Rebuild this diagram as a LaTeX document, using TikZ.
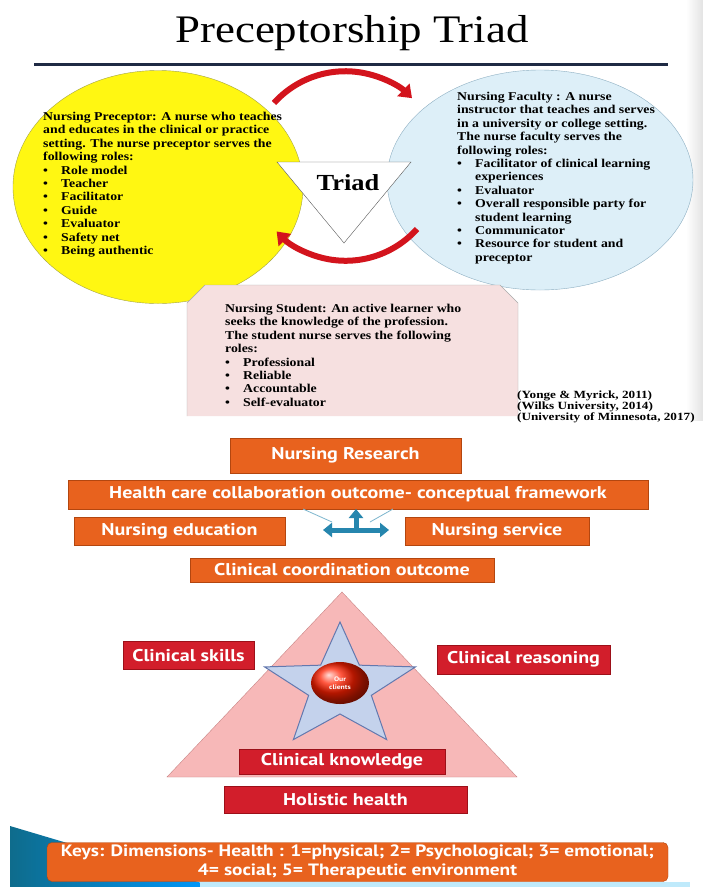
\documentclass[tikz,border=0pt]{standalone}
\usepackage{fontspec}
\setmainfont{Liberation Serif}
\newfontfamily\rolefont[FakeStretch=1.15]{Liberation Serif}
\newfontfamily\boxfont[FakeStretch=1.18]{PT Sans}
\newfontfamily\citefont[FakeStretch=1.2]{Liberation Serif}
\usetikzlibrary{arrows.meta,shapes.geometric}

\definecolor{navyline}{HTML}{1F2A44}
\definecolor{precfill}{HTML}{FFF712}
\definecolor{precline}{HTML}{A3A347}
\definecolor{facfill}{HTML}{DDEFF8}
\definecolor{facline}{HTML}{8DAFC2}
\definecolor{studfill}{HTML}{F6E0E0}
\definecolor{studline}{HTML}{A9A9A9}
\definecolor{arcred}{HTML}{D3141D}
\definecolor{boxorange}{HTML}{E8621E}
\definecolor{boxorangeline}{HTML}{B3460F}
\definecolor{boxred}{HTML}{D21E2B}
\definecolor{boxredline}{HTML}{9C1019}
\definecolor{hubblue}{HTML}{2686AE}
\definecolor{trifill}{HTML}{F7B8B8}
\definecolor{triline}{HTML}{C98585}
\definecolor{starfill}{HTML}{C4D2EC}
\definecolor{starline}{HTML}{6378AE}
\definecolor{swoosh}{HTML}{0E6C8C}

\newcommand{\rolebullet}{\makebox[18pt][l]{\textbullet}}

\tikzset{
  roletext/.style={anchor=north west, inner sep=0pt, align=left,
    font=\rolefont\fontsize{12}{13.4}\selectfont\bfseries},
  orangebox/.style={draw=boxorangeline, fill=boxorange, text=white, inner sep=0pt,
    font=\boxfont\bfseries\fontsize{17}{19}\selectfont},
  redbox/.style={draw=boxredline, fill=boxred, text=white, inner sep=0pt,
    font=\boxfont\bfseries\fontsize{17}{19}\selectfont},
  cyclearrow/.style={arcred, line width=6pt, -{Triangle[width=17pt,length=12pt]}},
  hubarrow/.style={hubblue, line width=5pt},
  hubline/.style={hubblue!60, line width=0.8pt},
}

\begin{document}
\begin{tikzpicture}[x=1pt,y=-1pt]
  \useasboundingbox (0,0) rectangle (703,887);
  \fill[white] (0,0) rectangle (703,887);

  % ---- triad slide ----
  \shade[left color=white,right color=gray!22] (686,0) rectangle (703,420);
  \node[anchor=base] (title) at (352,42) {\rolefont\fontsize{39}{39}\selectfont Preceptorship Triad};
  \draw[navyline, line width=3pt] (34,64) -- (668,64);

  \node[ellipse, draw=precline, fill=precfill, minimum width=290pt, minimum height=233pt] (preceptor) at (158,187) {};
  \node[ellipse, draw=facline, fill=facfill, minimum width=306pt, minimum height=220pt] (faculty) at (540,180) {};

  % cycle arrows round the triad
  \coordinate (cycTL) at (274,103);
  \coordinate (cycBR) at (417,229);
  \draw[cyclearrow] (cycTL) arc[start angle=222, end angle=314, radius=96];
  \draw[cyclearrow] (cycBR) arc[start angle=42, end angle=136, radius=96];

  \draw[fill=white, draw=gray!70!black] (277,162) -- (411,162) -- (344,243) -- cycle;
  \node[anchor=base, font=\rolefont\fontsize{23}{23}\selectfont\bfseries] (triad) at (348,190) {Triad};

  \fill[studfill] (187,303) -- (205,285) -- (500,285) -- (518,303) -- (518,416) -- (187,416) -- cycle;
  \draw[studline] (187,416) -- (187,303) -- (205,285) -- (500,285) -- (518,303) -- (518,416);

  \node[roletext] (precText) at (43,112) {Nursing Preceptor: A nurse who teaches\\
    and educates in the clinical or practice\\
    setting. The nurse preceptor serves the\\
    following roles:\\
    \rolebullet Role model\\
    \rolebullet Teacher\\
    \rolebullet Facilitator\\
    \rolebullet Guide\\
    \rolebullet Evaluator\\
    \rolebullet Safety net\\
    \rolebullet Being authentic};

  \node[roletext] (facText) at (457,92) {Nursing Faculty : A nurse\\
    instructor that teaches and serves\\
    in a university or college setting.\\
    The nurse faculty serves the\\
    following roles:\\
    \rolebullet Facilitator of clinical learning\\
    \hspace*{18pt}experiences\\
    \rolebullet Evaluator\\
    \rolebullet Overall responsible party for\\
    \hspace*{18pt}student learning\\
    \rolebullet Communicator\\
    \rolebullet Resource for student and\\
    \hspace*{18pt}preceptor};

  \node[roletext] (studText) at (225,304) {Nursing Student: An active learner who\\
    seeks the knowledge of the profession.\\
    The student nurse serves the following\\
    roles:\\
    \rolebullet Professional\\
    \rolebullet Reliable\\
    \rolebullet Accountable\\
    \rolebullet Self-evaluator};

  \node[anchor=north west, inner sep=0pt, align=left,
    font=\citefont\fontsize{11}{11}\selectfont\bfseries] (refs) at (517,391)
    {(Yonge \& Myrick, 2011)\\ (Wilks University, 2014)\\ (University of Minnesota, 2017)};

  % ---- framework slide ----
  \node[orangebox, minimum width=231pt, minimum height=35pt] (research) at (345.5,455.5) {Nursing Research};
  \node[orangebox, minimum width=580pt, minimum height=29pt] (collab) at (358,494.5) {Health care collaboration outcome- conceptual framework};
  \node[orangebox, minimum width=211pt, minimum height=28pt] (education) at (179.5,531) {Nursing education};
  \node[orangebox, minimum width=184pt, minimum height=28pt] (service) at (497,531) {Nursing service};
  \node[orangebox, minimum width=304pt, minimum height=24pt] (coord) at (342,570) {Clinical coordination outcome};

  \coordinate (hubL) at (323,530);
  \coordinate (hubR) at (389,530);
  \coordinate (hubC) at (356,530);
  \coordinate (hubT) at (356,509);
  \coordinate (linkA) at (303,509);
  \coordinate (linkB) at (332,522);
  \coordinate (linkC) at (393,509);
  \coordinate (linkD) at (370,522);
  \draw[hubline] (linkA) -- (linkB);
  \draw[hubline] (linkC) -- (linkD);
  \draw[hubarrow, {Triangle[width=14pt,length=9pt]}-{Triangle[width=14pt,length=9pt]}] (hubL) -- (hubR);
  \draw[hubarrow, -{Triangle[width=14pt,length=9pt]}] (hubC) -- (hubT);

  \draw[fill=trifill, draw=triline] (342,592) -- (517,777) -- (167,777) -- cycle;
  \draw[fill=starfill, draw=starline, line width=1pt, shift={(340,687)}, xscale=1.22]
    (-90:65) \foreach \k in {1,...,9} { -- ({-90+36*\k}:{ifthenelse(isodd(\k),27,65)}) } -- cycle;
  \shade[ball color=red!75!orange] (340,683) ellipse[x radius=29, y radius=21];
  \node[align=center, text=white, font=\boxfont\bfseries\fontsize{6.5}{7.5}\selectfont] (clients) at (340,683) {Our\\clients};

  \node[redbox, minimum width=131pt, minimum height=28pt] (skills) at (188.5,655.5) {Clinical skills};
  \node[redbox, minimum width=173pt, minimum height=29pt] (reasoning) at (523.5,659.5) {Clinical reasoning};
  \node[redbox, minimum width=206pt, minimum height=25pt] (knowledge) at (342,761.5) {Clinical knowledge};
  \node[redbox, minimum width=243pt, minimum height=27pt] (holistic) at (345.5,799.5) {Holistic health};

  % keys bar
  \shade[left color=swoosh, right color=cyan!60!blue] (10,826) -- (215,887) -- (10,887) -- cycle;
  \fill[cyan!25] (200,882) rectangle (690,887);
  \node[orangebox, rounded corners=5pt, minimum width=621pt, minimum height=39pt, align=center,
    font=\boxfont\bfseries\fontsize{16.4}{18.5}\selectfont] (keys) at (357.5,862)
    {Keys: Dimensions- Health : 1=physical; 2= Psychological; 3= emotional;\\ 4= social; 5= Therapeutic environment};
\end{tikzpicture}
\end{document}
